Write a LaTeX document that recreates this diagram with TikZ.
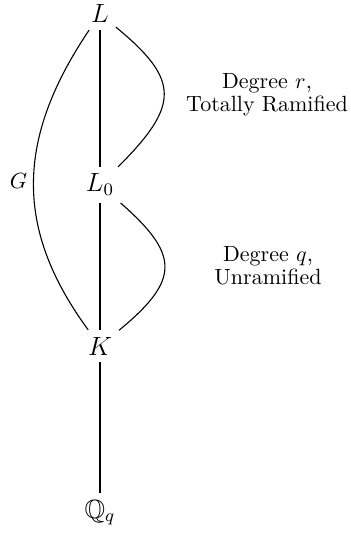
\documentclass[tikz,border=0pt]{standalone}
\usepackage{amssymb}
\begin{document}
\begin{tikzpicture}[x=0.4545pt,y=-0.4545pt,
  field/.style={font=\large, inner sep=3pt, anchor=base},
  note/.style={font=\normalsize, align=center},
  edge/.style={line width=0.5pt}]
\useasboundingbox (0,0) rectangle (350,537);
\node[field] (L)  at (100,23)  {$L$};
\node[field] (L0) at (100,192) {$L_0$};
\node[field] (K)  at (100,355)  {$K$};
\node[field] (Q)  at (100,518)  {$\mathbb{Q}_q$};
\node[anchor=base, inner sep=0pt] (G) at (18.5,189) {$G$};
\node[note] (r) at (267,95) {Degree $r$,\\[-1.5pt]Totally Ramified};
\node[note] (q) at (268,266) {Degree $q$,\\[-1.5pt]Unramified};
\draw[edge] (L) -- (L0);
\draw[edge] (L0) -- (K);
\draw[edge] (K) -- (Q);
\draw[edge] (L) .. controls (15,140) and (15,230) .. (K);
\draw[edge] (L) .. controls (180,80) and (180,105) .. (L0);
\draw[edge] (L0) .. controls (180,255) and (180,280) .. (K);
\end{tikzpicture}
\end{document}
